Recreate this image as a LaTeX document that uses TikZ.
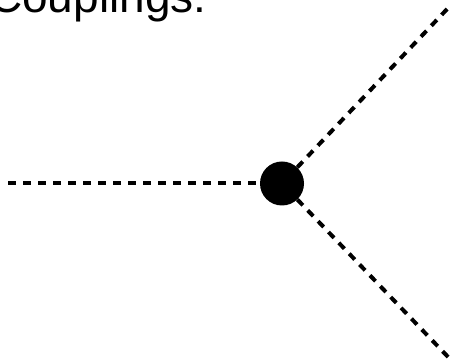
\documentclass[tikz,border=0pt]{standalone}
\usepackage{fontspec}
\setmainfont{Liberation Sans}
\usepackage{tikz}

\tikzset{
    prop/.style={dash pattern=on 8pt off 7pt, line width=4pt},
    vertex/.style={circle, fill, inner sep=0pt, minimum size=44pt}
}

\begin{document}
\begin{tikzpicture}[x=1pt, y=1pt]
    \useasboundingbox (0,0) rectangle (452,361);
    \node[anchor=base west, inner sep=0pt] (title) at (-11,348)
        {\fontsize{46}{46}\selectfont Couplings:};

    \node[vertex] (v) at (282,177.5) {};
    \coordinate (in) at (8,177.5);
    \coordinate (outa) at (450,355);
    \coordinate (outb) at (450,2);

    \draw[prop] (in) -- (v);
    \draw[prop] (v) -- (outa);
    \draw[prop] (v) -- (outb);
\end{tikzpicture}
\end{document}
